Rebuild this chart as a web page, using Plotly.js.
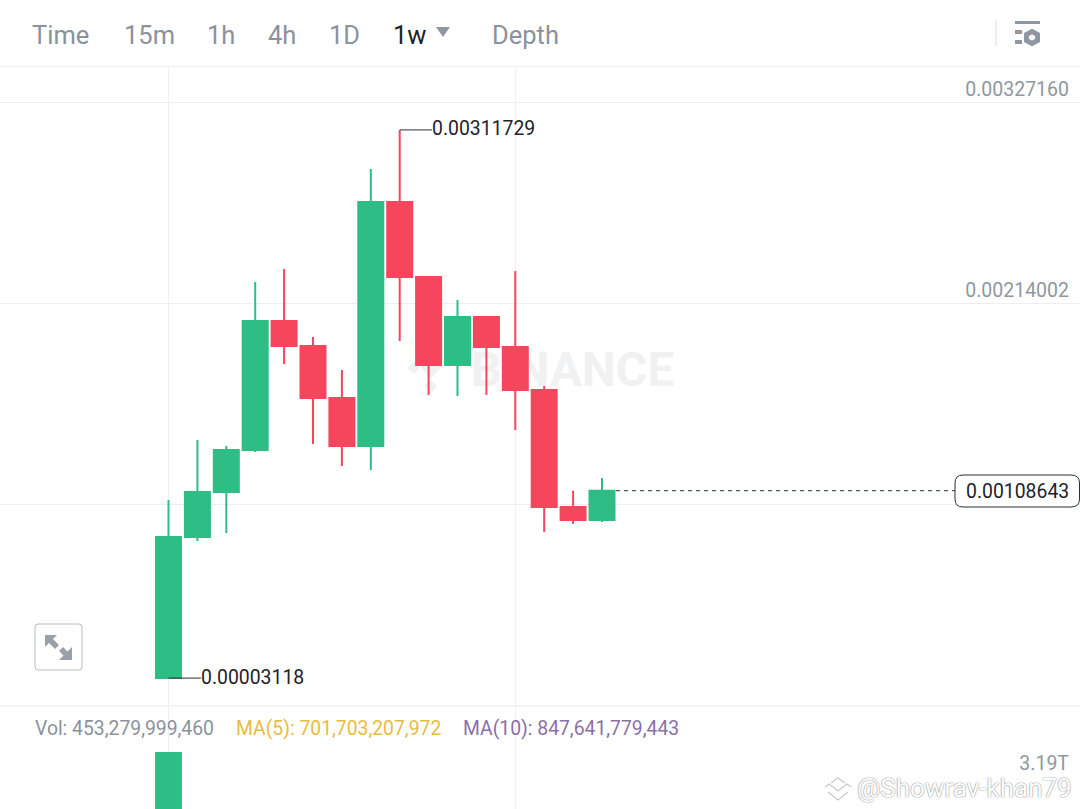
<!DOCTYPE html>
<html>
<head>
<meta charset="utf-8">
<script src="https://cdn.plot.ly/plotly-3.0.1.min.js"></script>
<style>html,body{margin:0;padding:0;background:#fff;overflow:hidden}#c{width:1080px;height:809px}</style>
</head>
<body>
<div id="c"></div>
<script>
var candleIndex = [0,1,2,3,4,5,6,7,8,9,10,11,12,13,14,15];
var openPrices  = [0.00003118,0.00082550,0.00107883,0.00131528,0.00204151,0.00190077,0.00160802,0.00133780,0.00271144,0.00228922,0.00179380,0.00206403,0.00189514,0.00165306,0.00099439,0.00092120];
var closePrices = [0.00082550,0.00107883,0.00131528,0.00204151,0.00190077,0.00160802,0.00133780,0.00271144,0.00228922,0.00179380,0.00206403,0.00189514,0.00165306,0.00099439,0.00092120,0.00108643];
var highPrices  = [0.00103379,0.00137158,0.00133780,0.00226107,0.00233425,0.00195144,0.00176566,0.00289722,0.00311729,0.00228922,0.00216000,0.00206403,0.00232300,0.00167558,0.00108643,0.00115765];
var lowPrices   = [0.00003118,0.00080298,0.00084801,0.00130402,0.00179943,0.00134906,0.00122520,0.00120269,0.00192892,0.00162491,0.00161928,0.00162491,0.00142787,0.00085364,0.00089868,0.00090994];
var volumeIndex = [0];
var volumeValues = [3190000000000];
var priceTicks = [0.00327160,0.00214002,0.00100844];
var priceTickLabels = ['0.00327160','0.00214002',''];
var gridCandles = [0,12];
var highLabel = '0.00311729', lowLabel = '0.00003118', lastLabel = '0.00108643';
var tabNames = ['Time','15m','1h','4h','1D','1w','Depth'];
var tabLefts = [32,124,207,268,329,393,492];

var W = 1080, H = 809;
function fx(p){return p/W;}
function fy(p){return 1-p/H;}
function pathPx(pts,close){
  return pts.map(function(q,i){return (i?'L':'M')+fx(q[0])+','+fy(q[1]);}).join(' ')+(close?' Z':'');
}
function xIdx(px){return (px-168.5)/28.9;}

var traces = [
  {type:'candlestick',x:candleIndex,open:openPrices,high:highPrices,low:lowPrices,close:closePrices,
   xaxis:'x',yaxis:'y',whiskerwidth:0,hoverinfo:'skip',
   increasing:{line:{color:'#2ebd85',width:2},fillcolor:'#2ebd85'},
   decreasing:{line:{color:'#f6465d',width:2},fillcolor:'#f6465d'}},
  {type:'bar',x:volumeIndex,y:volumeValues,xaxis:'x',yaxis:'y2',width:0.93,
   marker:{color:'#2ebd85'},hoverinfo:'skip'}
];

var grey='#8f97a1';
var logoLine={color:'#c4c6ca',width:1.1};
function logoPath(pts){return {type:'path',xref:'paper',yref:'paper',line:logoLine,fillcolor:'rgba(0,0,0,0)',path:pathPx(pts,false)};}
var shapes = [
  {type:'line',xref:'paper',yref:'paper',x0:0,x1:1,y0:fy(66.5),y1:fy(66.5),line:{color:'#f1f2f3',width:1.5}},
  {type:'line',xref:'paper',yref:'paper',x0:0,x1:1,y0:fy(706),y1:fy(706),line:{color:'#eff0f2',width:1.5}},
  {type:'line',xref:'paper',yref:'paper',x0:fx(996),x1:fx(996),y0:fy(20),y1:fy(46),line:{color:'#eceef0',width:2}},
  // last price guide
  {type:'line',xref:'x',yref:'y',x0:xIdx(616),x1:xIdx(955),y0:closePrices[15],y1:closePrices[15],line:{color:'#50565e',width:1.3,dash:'4px 4px'}},
  // extreme price leaders
  {type:'line',xref:'x',yref:'y',x0:8,x1:xIdx(432),y0:highPrices[8],y1:highPrices[8],line:{color:'#2b3036',width:1}},
  {type:'line',xref:'x',yref:'y',x0:0,x1:xIdx(201),y0:lowPrices[0],y1:lowPrices[0],line:{color:'#2b3036',width:1}},
  // last price pill
  {type:'path',xref:'paper',yref:'paper',line:{color:'#2b3036',width:1},fillcolor:'#ffffff',
   path:'M'+fx(963)+','+fy(475)+' L'+fx(1071)+','+fy(475)+' Q'+fx(1079.5)+','+fy(475)+' '+fx(1079.5)+','+fy(483)+' L'+fx(1079.5)+','+fy(499)+' Q'+fx(1079.5)+','+fy(507)+' '+fx(1071)+','+fy(507)+' L'+fx(963)+','+fy(507)+' Q'+fx(955)+','+fy(507)+' '+fx(955)+','+fy(499)+' L'+fx(955)+','+fy(483)+' Q'+fx(955)+','+fy(475)+' '+fx(963)+','+fy(475)+' Z'},
  // expand button
  {type:'path',xref:'paper',yref:'paper',line:{color:'#b7bcc3',width:1},fillcolor:'#ffffff',
   path:'M'+fx(38)+','+fy(624)+' L'+fx(79)+','+fy(624)+' Q'+fx(82)+','+fy(624)+' '+fx(82)+','+fy(627)+' L'+fx(82)+','+fy(667)+' Q'+fx(82)+','+fy(670)+' '+fx(79)+','+fy(670)+' L'+fx(38)+','+fy(670)+' Q'+fx(35)+','+fy(670)+' '+fx(35)+','+fy(667)+' L'+fx(35)+','+fy(627)+' Q'+fx(35)+','+fy(624)+' '+fx(38)+','+fy(624)+' Z'},
  {type:'path',xref:'paper',yref:'paper',line:{width:0},fillcolor:'#9aa0a8',path:pathPx([[45,635],[57,635],[53,639],[59,645],[55,649],[49,643],[45,647]],true)},
  {type:'path',xref:'paper',yref:'paper',line:{width:0},fillcolor:'#9aa0a8',path:pathPx([[72,660],[59,660],[63.5,655.5],[59,651],[63,647],[67.5,651.5],[72,647]],true)},
  // dropdown caret
  {type:'path',xref:'paper',yref:'paper',line:{width:0},fillcolor:'#8f97a1',path:pathPx([[436,27],[450,27],[443,37]],true)},
  // settings icon
  {type:'rect',xref:'paper',yref:'paper',x0:fx(1015),x1:fx(1040),y0:fy(21),y1:fy(24),line:{width:0},fillcolor:grey},
  {type:'rect',xref:'paper',yref:'paper',x0:fx(1015),x1:fx(1022),y0:fy(30),y1:fy(34),line:{width:0},fillcolor:grey},
  {type:'rect',xref:'paper',yref:'paper',x0:fx(1015),x1:fx(1022),y0:fy(40),y1:fy(44),line:{width:0},fillcolor:grey},
  {type:'path',xref:'paper',yref:'paper',line:{color:grey,width:5},fillcolor:'#ffffff',path:pathPx([[1032,31.5],[1037.5,34.5],[1037.5,40.5],[1032,43.5],[1026.5,40.5],[1026.5,34.5]],true)},
  // background watermark
  {type:'rect',layer:'below',xref:'paper',yref:'paper',x0:fx(465),x1:fx(680),y0:fy(345),y1:fy(388),line:{width:0},fillcolor:'rgba(0,0,0,0)',
   label:{text:'<b>BINANCE</b>',textposition:'middle center',font:{family:'Roboto',size:48,color:'#f0f1f2'}}},
  {type:'path',layer:'below',xref:'paper',yref:'paper',line:{width:0},fillcolor:'#f0f1f2',path:pathPx([[431,358],[441,368],[431,378],[421,368]],true)},
  {type:'path',layer:'below',xref:'paper',yref:'paper',line:{width:0},fillcolor:'#f0f1f2',path:pathPx([[414,362],[420,368],[414,374],[407,368]],true)},
  {type:'path',layer:'below',xref:'paper',yref:'paper',line:{width:0},fillcolor:'#f0f1f2',path:pathPx([[431,380],[437,386],[431,393],[424,386]],true)},
  // signature logo
  logoPath([[831,783],[838,778],[845,783]]),
  logoPath([[825,787],[829,784],[833,787],[838,791],[843,787],[847,784],[851,787]]),
  logoPath([[828,792],[838,800],[848,792]])
];

function txt(t,x,y,col,size,anchor){
  return {xref:'paper',yref:'paper',x:fx(x),y:fy(y),text:t,showarrow:false,xanchor:anchor||'left',yanchor:'middle',
          font:{family:'Roboto',size:size,color:col},borderpad:0,borderwidth:0};
}
var annotations = tabNames.map(function(n,i){
  return txt(n,tabLefts[i],35,n==='1w'?'#1e2329':'#8b929b',25.5);
});
annotations.push(
  {x:xIdx(431),y:highPrices[8],xref:'x',yref:'y',text:highLabel,showarrow:false,xanchor:'left',yanchor:'middle',yshift:1.5,borderpad:0,font:{family:'Roboto',size:19.4,color:'#1e2329'}},
  {x:xIdx(200),y:lowPrices[0],xref:'x',yref:'y',text:lowLabel,showarrow:false,xanchor:'left',yanchor:'middle',yshift:1,borderpad:0,font:{family:'Roboto',size:19.4,color:'#1e2329'}},
  txt(lastLabel,1017,491,'#1e2329',19.4,'center'),
  txt('Vol: 453,279,999,460',35,728,'#8b929b',19.35),
  txt('MA(5): 701,703,207,972',236,728,'#e8bc3f',19.35),
  txt('MA(10): 847,641,779,443',463,728,'#8b6fa8',19.35),
  {xref:'paper',yref:'paper',x:fx(855),y:fy(788),text:'@Showrav-khan79',showarrow:false,xanchor:'left',yanchor:'middle',
   font:{family:'Roboto',size:26,color:'#ffffff',shadow:'0 0 1.5px #8a8d91, 0 0 1px #8a8d91'}}
);

var layout = {
  width:W,height:H,margin:{l:0,r:0,t:0,b:0,pad:0},
  paper_bgcolor:'#ffffff',plot_bgcolor:'rgba(0,0,0,0)',showlegend:false,dragmode:false,hovermode:false,
  boxgap:0.135,boxgroupgap:0,
  xaxis:{domain:[0,1],range:[xIdx(0),xIdx(1080)],tickmode:'array',tickvals:gridCandles,ticktext:['',''],
         showgrid:true,gridcolor:'#eef0f2',gridwidth:1,zeroline:false,showline:false,ticks:'',
         rangeslider:{visible:false},anchor:'y2',fixedrange:true},
  yaxis:{domain:[fy(706),fy(67)],range:[-0.00012592,0.00347146],side:'right',anchor:'x',
         tickmode:'array',tickvals:priceTicks,ticktext:priceTickLabels,ticklabelposition:'inside top',ticklabelstandoff:8,
         tickfont:{family:'Roboto',size:19.5,color:'#8f97a1'},
         showgrid:true,gridcolor:'#eceef0',gridwidth:1,zeroline:false,showline:false,ticks:'',fixedrange:true},
  yaxis2:{domain:[0,fy(706)],range:[2.316e12,3.896e12],side:'right',anchor:'x',
         tickmode:'array',tickvals:[3190000000000],ticktext:['3.19T'],ticklabelposition:'inside bottom',ticklabelstandoff:8,ticklabelshift:-2,
         tickfont:{family:'Roboto',size:19.5,color:'#8f97a1'},
         showgrid:false,zeroline:false,showline:false,ticks:'',fixedrange:true},
  shapes:shapes,annotations:annotations
};
Plotly.newPlot('c',traces,layout,{displayModeBar:false,staticPlot:true,responsive:false});
</script>
</body>
</html>
